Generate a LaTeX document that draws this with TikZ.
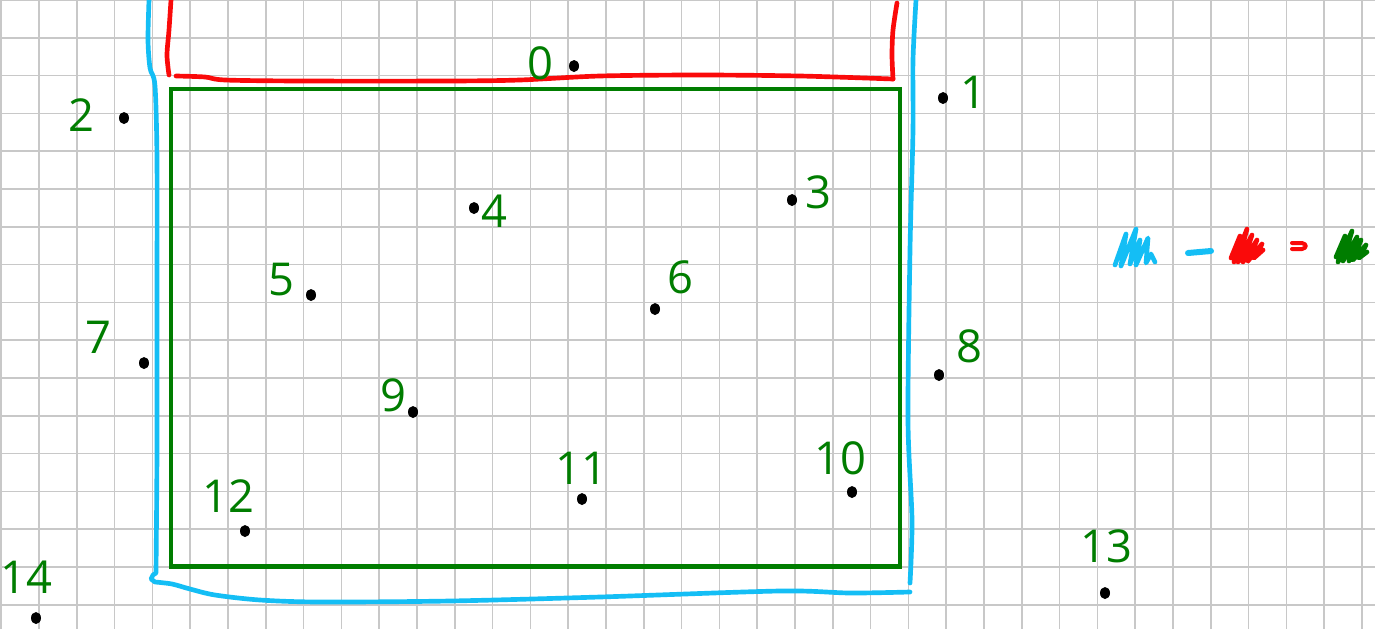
\documentclass[tikz,border=0pt]{standalone}
\usepackage{fontspec}
\setmainfont{Open Sans}
\usetikzlibrary{shapes.geometric}
\definecolor{gridc}{RGB}{200,200,200}
\definecolor{hblue}{RGB}{20,190,245}
\definecolor{hred}{RGB}{250,10,10}
\definecolor{hgreen}{RGB}{0,125,0}
\tikzset{
  gridline/.style={draw=gridc, line width=1.1pt},
  pen/.style={line width=3.5pt, line cap=round, line join=round},
  dotpt/.style={ellipse, fill=black, inner sep=0pt, minimum width=7.5pt, minimum height=9pt},
  numlbl/.style={text=hgreen, inner sep=0pt, font=\fontsize{34}{34}\selectfont},
}
\begin{document}
\begin{tikzpicture}[x=0.75pt, y=-0.75pt]
\useasboundingbox (0,0) rectangle (1375,629);
\fill[white] (0,0) rectangle (1375,629);
% grid
\foreach \k in {0,...,36} {\draw[gridline] ({1.2+37.8*\k},0) -- ({1.2+37.8*\k},629);}
\foreach \k in {0,...,16} {\draw[gridline] (0,{37.8*\k}) -- (1375,{37.8*\k});}
% blue outline
\draw[pen, hblue] plot[smooth, tension=0.5] coordinates {(149,0) (148,40) (150,68) (155,86) (157,160) (157,300) (157,450) (156,573)}
  -- (153,575) -- (151,579) -- (155,582)
  plot[smooth, tension=0.5] coordinates {(155,582) (172,584) (190,589) (215,595) (260,600) (320,602) (450,601) (600,597) (780,591) (850,593) (910,592)};
\draw[pen, hblue] plot[smooth, tension=0.5] coordinates {(916,0) (913,60) (913,130) (910,250) (908,420) (912,520) (910,583)};
% red outline
\draw[pen, hred] plot[smooth, tension=0.5] coordinates {(171,0) (169,30) (167,55) (169,75)};
\draw[pen, hred] plot[smooth, tension=0.5] coordinates {(176,76) (205,77) (225,80) (300,81) (450,81) (520,80) (600,76) (700,75) (800,76) (893,79)};
\draw[pen, hred] plot[smooth, tension=0.5] coordinates {(893,79) (892,55) (893,30) (897,3)};
% green rectangle
\draw[hgreen, line width=3.2pt] (171,89) rectangle (900,566.5);
% points
\node[dotpt] (p0) at (574,66) {};
\node[dotpt] (p1) at (943,98) {};
\node[dotpt] (p2) at (124,118) {};
\node[dotpt] (p3) at (792,200) {};
\node[dotpt] (p4) at (474,208) {};
\node[dotpt] (p5) at (311,295) {};
\node[dotpt] (p6) at (655,309) {};
\node[dotpt] (p7) at (144,363) {};
\node[dotpt] (p8) at (939,375) {};
\node[dotpt] (p9) at (413,412) {};
\node[dotpt] (p10) at (852,492) {};
\node[dotpt] (p11) at (582,499) {};
\node[dotpt] (p12) at (245,531) {};
\node[dotpt] (p13) at (1105,593) {};
\node[dotpt] (p14) at (36,618) {};
% labels
\node[numlbl] (l0) at (540,63) {0};
\node[numlbl] (l1) at (973,92) {1};
\node[numlbl] (l2) at (81,115) {2};
\node[numlbl] (l3) at (818,192) {3};
\node[numlbl] (l4) at (494,211) {4};
\node[numlbl] (l5) at (281,280) {5};
\node[numlbl] (l6) at (680,277) {6};
\node[numlbl] (l7) at (98,337) {7};
\node[numlbl] (l8) at (969,346) {8};
\node[numlbl] (l9) at (393,395) {9};
\node[numlbl] (l10) at (840,458) {10};
\node[numlbl] (l11) at (581,468) {11};
\node[numlbl] (l12) at (228,496) {12};
\node[numlbl] (l13) at (1106,546) {13};
\node[numlbl] (l14) at (26,577) {14};
% legend scribbles
\draw[pen, hblue] (1115,265) -- (1126,234) -- (1121,266) -- (1136,229) -- (1130,264) -- (1140,240) -- (1136,265) -- (1148,238) -- (1146,263) -- (1151,254) -- (1155,262);
\draw[pen, hblue, line width=4.5pt] (1188,253) -- (1211,251);
\draw[pen, hred] (1231,258) -- (1240,236) -- (1234,262) -- (1247,229) -- (1238,262) -- (1252,235) -- (1243,262) -- (1257,240) -- (1248,261) -- (1262,244) -- (1254,258) -- (1263,250);
\draw[pen, hred, line width=3pt] (1292,243) -- (1302,243) .. controls (1307,244) and (1307,248) .. (1302,249) -- (1292,249);
\draw[pen, hgreen] (1336,257) -- (1345,236) -- (1338,262) -- (1352,231) -- (1343,261) -- (1357,237) -- (1349,261) -- (1361,240) -- (1353,260) -- (1366,245) -- (1359,258) -- (1367,252);
\end{tikzpicture}
\end{document}
